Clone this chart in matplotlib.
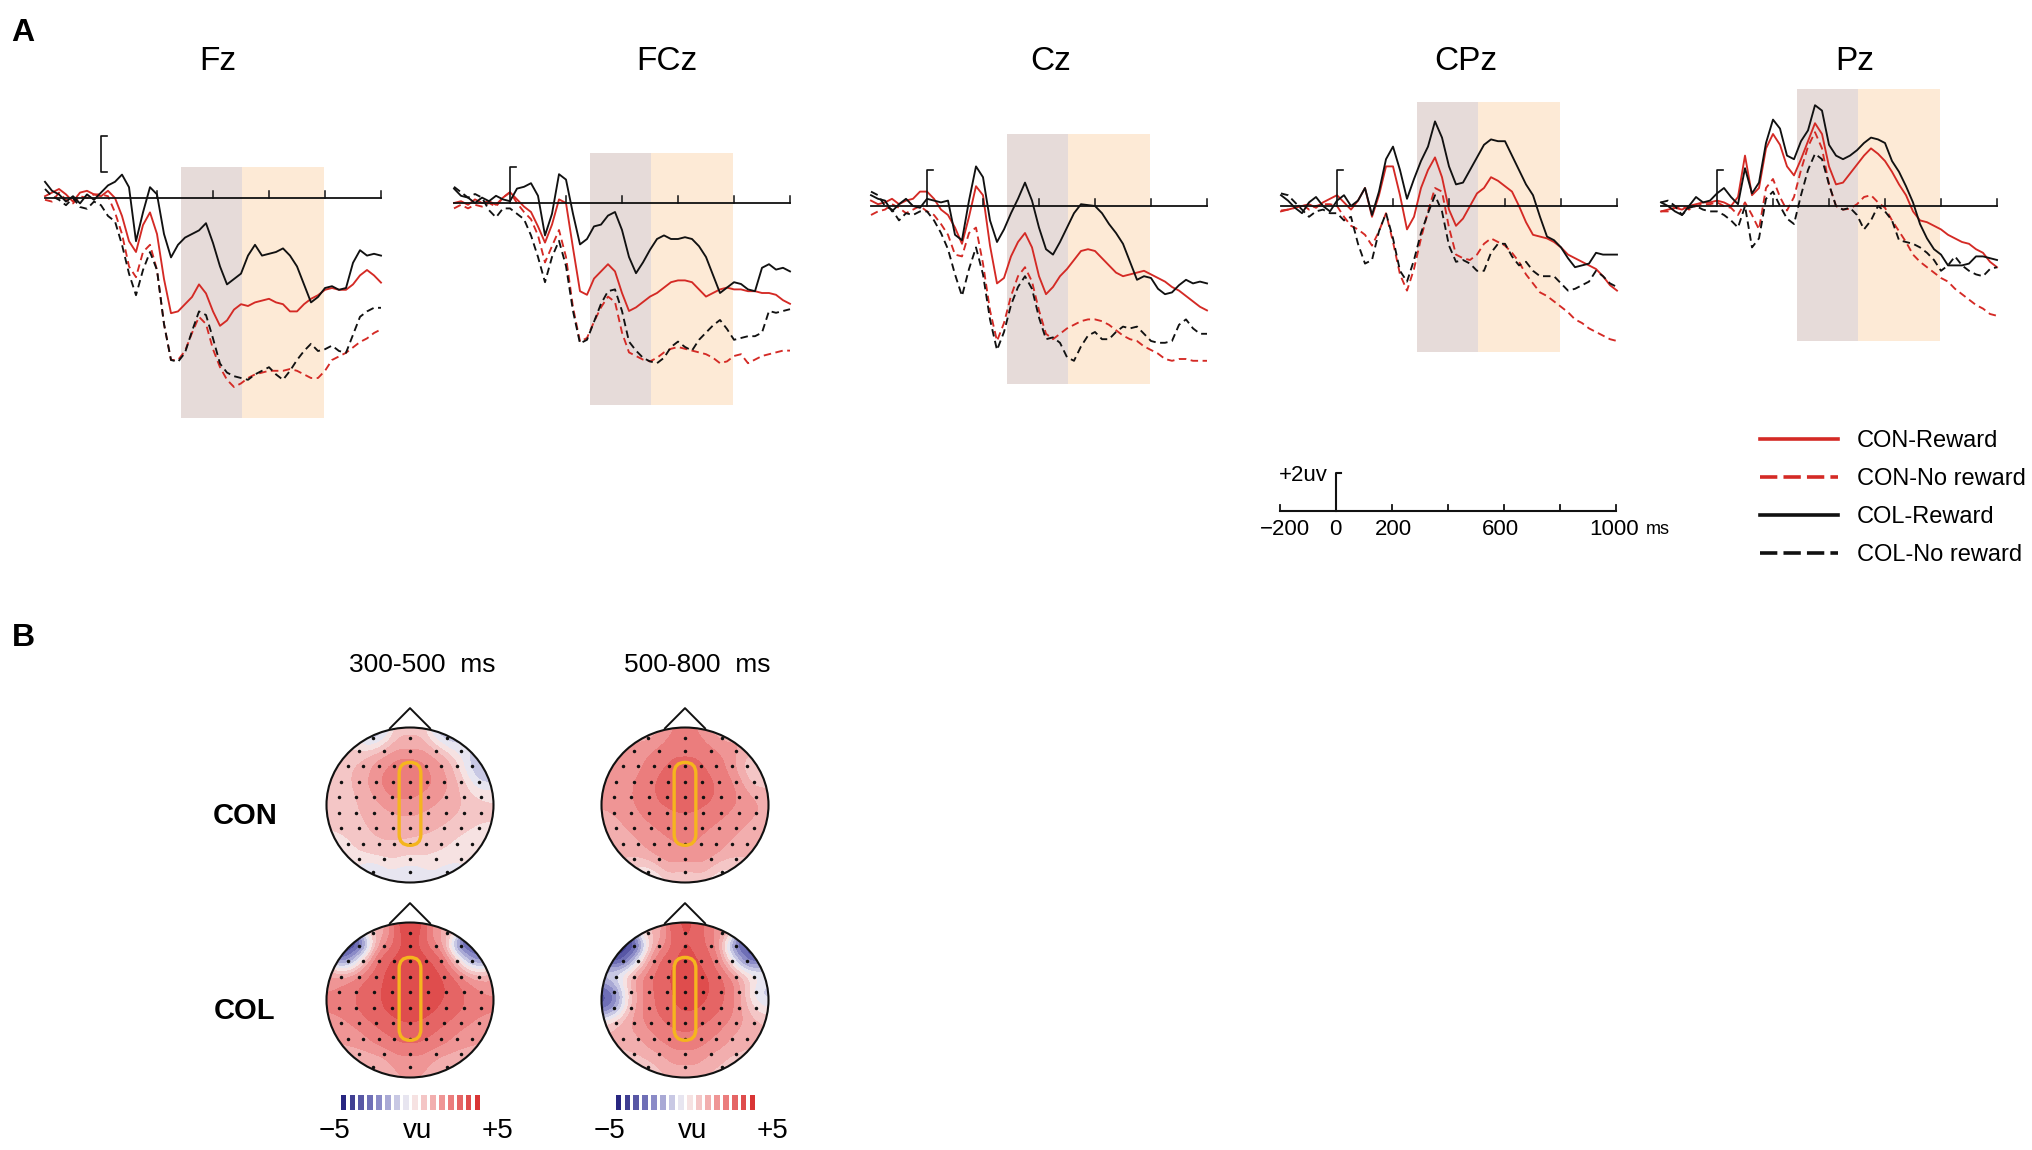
import numpy as np
import matplotlib

matplotlib.use("Agg")
import matplotlib.pyplot as plt
from matplotlib.colors import LinearSegmentedColormap
from matplotlib.patches import Ellipse, FancyBboxPatch, Rectangle

plt.rcParams["font.family"] = ["Liberation Sans", "DejaVu Sans"]

W, H = 2033, 1150
PX_MS = 0.28      # pixels per ms in the ERP panels and the scale bar
PX_UV = 18.0      # pixels per microvolt

# ── data ────────────────────────────────────────────────────────────────────
TIMES = np.arange(-200, 1001, 25)   # ms, sampling grid of the read-off values

# rows: -200..-25 | 0..175 | 200..375 | 400..575 | 600..775 | 800..975 | 1000
FZ_CON_REW = [0.1, 0.3, 0.5, 0.2, -0.2, 0.3, 0.4, 0.2,
              0.1, 0.4, 0.0, -1.0, -2.4, -3.0, -1.5, -0.8,
              -2.0, -4.5, -6.4, -6.3, -5.9, -5.5, -4.8, -5.3,
              -6.3, -7.1, -6.8, -6.2, -5.9, -6.0, -5.8, -5.7,
              -5.6, -5.8, -5.9, -6.3, -6.3, -5.9, -5.6, -5.4,
              -5.1, -5.0, -5.1, -5.1, -4.8, -4.3, -4.0, -4.3,
              -4.7]
FZ_CON_NOREW = [-0.1, -0.2, 0.3, -0.1, -0.3, 0.1, 0.0, 0.2,
                0.2, 0.1, -0.8, -2.0, -3.8, -4.4, -3.0, -2.6,
                -4.0, -7.0, -9.0, -9.0, -8.5, -7.5, -6.6, -7.0,
                -8.4, -9.4, -10.1, -10.5, -10.3, -10.0, -9.8, -9.7,
                -9.6, -9.6, -9.6, -9.5, -9.6, -9.8, -10.0, -10.0,
                -9.6, -9.0, -8.8, -8.6, -8.3, -8.0, -7.8, -7.5,
                -7.3]
FZ_COL_REW = [0.9, 0.4, 0.2, -0.2, 0.1, -0.3, 0.2, -0.1,
              0.3, 0.7, 0.9, 1.3, 0.6, -2.4, -0.8, 0.6,
              0.2, -2.0, -3.3, -2.6, -2.2, -2.0, -1.8, -1.4,
              -2.5, -3.8, -4.8, -4.5, -4.2, -3.2, -2.6, -3.2,
              -3.1, -3.0, -2.8, -3.2, -3.8, -4.8, -5.8, -5.5,
              -5.0, -4.9, -5.1, -5.0, -3.6, -2.9, -3.2, -3.1,
              -3.2]
FZ_COL_NOREW = [0.5, 0.1, -0.1, -0.4, 0.0, -0.5, -0.6, -0.2,
                -0.4, -1.0, -1.3, -2.6, -4.2, -5.4, -4.0, -3.0,
                -4.0, -7.0, -9.0, -9.1, -8.6, -7.4, -6.3, -6.5,
                -7.8, -9.2, -9.7, -9.9, -10.0, -10.1, -9.8, -9.6,
                -9.4, -9.8, -10.1, -9.6, -9.0, -8.5, -8.1, -8.5,
                -8.4, -8.2, -8.5, -8.6, -7.6, -6.6, -6.3, -6.1,
                -6.1]

FCZ_CON_REW = [0.0, 0.1, -0.1, 0.2, 0.0, 0.1, -0.1, 0.3,
               0.6, 0.2, -0.2, -0.5, -1.3, -2.2, -1.2, 0.2,
               0.0, -2.5, -4.9, -5.1, -4.2, -3.8, -3.4, -3.8,
               -5.0, -6.0, -5.8, -5.5, -5.2, -5.0, -4.7, -4.4,
               -4.3, -4.3, -4.4, -4.8, -5.2, -5.0, -4.8, -4.7,
               -4.8, -4.8, -4.9, -4.9, -5.0, -5.0, -5.1, -5.4,
               -5.6]
FCZ_CON_NOREW = [-0.3, -0.1, -0.3, -0.1, -0.2, 0.0, -0.2, 0.3,
                 0.6, 0.0, -0.5, -0.9, -1.8, -3.3, -2.4, -1.5,
                 -3.0, -5.8, -7.7, -7.5, -6.6, -5.8, -5.2, -5.5,
                 -7.2, -8.3, -8.5, -8.7, -8.8, -8.6, -8.3, -8.1,
                 -8.0, -8.1, -8.2, -8.3, -8.4, -8.6, -8.9, -8.8,
                 -8.5, -8.4, -8.9, -8.7, -8.5, -8.4, -8.3, -8.2,
                 -8.2]
FCZ_COL_REW = [0.8, 0.4, 0.3, 0.0, 0.3, 0.1, 0.4, 0.2,
               0.1, 0.8, 0.9, 1.1, 0.4, -1.8, -0.6, 1.6,
               1.3, -0.6, -2.3, -2.0, -1.3, -1.2, -0.7, -0.5,
               -1.5, -3.0, -3.9, -3.3, -2.6, -2.0, -1.8, -2.0,
               -2.0, -1.9, -2.0, -2.4, -3.0, -4.0, -5.0, -4.7,
               -4.4, -4.5, -4.8, -4.9, -3.6, -3.4, -3.7, -3.6,
               -3.8]
FCZ_COL_NOREW = [0.9, 0.6, 0.3, 0.5, 0.3, -0.4, -0.8, -0.3,
                 -0.3, -0.6, -0.9, -1.8, -3.0, -4.4, -3.0, -2.1,
                 -3.5, -6.0, -7.8, -7.6, -6.6, -5.6, -4.9, -4.8,
                 -6.0, -7.7, -8.2, -8.6, -8.8, -8.9, -8.6, -8.0,
                 -7.7, -8.0, -8.2, -7.6, -7.2, -6.8, -6.5, -7.0,
                 -7.6, -7.5, -7.4, -7.4, -7.2, -6.0, -6.1, -6.0,
                 -5.9]

CZ_CON_REW = [0.3, 0.1, 0.2, 0.4, 0.1, 0.3, 0.4, 0.8,
              0.8, 0.4, -0.2, -0.5, -1.2, -2.1, -0.6, 1.1,
              0.6, -2.2, -4.3, -4.0, -2.8, -2.0, -1.5, -2.3,
              -3.9, -4.9, -4.5, -3.9, -3.5, -3.0, -2.5, -2.4,
              -2.5, -2.9, -3.3, -3.7, -3.9, -3.8, -3.7, -3.6,
              -3.8, -4.0, -4.2, -4.5, -4.7, -5.0, -5.3, -5.6,
              -5.8]
CZ_CON_NOREW = [-0.5, -0.3, -0.2, 0.1, -0.1, -0.4, -0.2, 0.0,
                -0.3, -0.5, -1.0, -1.6, -2.7, -2.8, -1.5, -1.2,
                -3.2, -5.8, -7.5, -6.5, -5.0, -3.9, -3.4, -4.2,
                -5.8, -7.1, -7.4, -7.1, -6.8, -6.6, -6.4, -6.3,
                -6.3, -6.4, -6.6, -6.9, -7.2, -7.4, -7.5, -7.8,
                -8.0, -8.2, -8.5, -8.6, -8.5, -8.5, -8.6, -8.6,
                -8.6]
CZ_COL_REW = [0.6, 0.4, 0.3, -0.3, 0.1, 0.4, 0.0, -0.1,
              0.4, 0.3, 0.2, 0.3, -1.6, -1.9, 0.3, 2.2,
              1.6, -0.8, -2.0, -1.3, -0.4, 0.4, 1.3, 0.3,
              -1.2, -2.4, -2.7, -2.0, -1.2, -0.4, 0.1, 0.05,
              0.0, -0.4, -1.0, -1.5, -2.1, -3.1, -4.1, -3.9,
              -4.0, -4.6, -4.9, -4.8, -4.4, -4.1, -4.3, -4.2,
              -4.3]
CZ_COL_NOREW = [0.8, 0.6, 0.0, -0.2, -0.8, -0.4, -0.5, -0.3,
                -0.3, -0.8, -1.5, -2.4, -3.8, -5.0, -3.5, -2.3,
                -3.8, -6.3, -8.0, -7.0, -5.5, -4.5, -3.9, -4.6,
                -6.2, -7.4, -7.3, -7.6, -8.4, -8.6, -7.8, -7.2,
                -7.0, -7.4, -7.4, -7.0, -6.7, -6.8, -6.7, -7.1,
                -7.5, -7.6, -7.6, -7.5, -6.6, -6.3, -6.8, -7.1,
                -7.1]

CPZ_CON_REW = [-0.3, -0.2, -0.1, 0.0, 0.1, -0.1, 0.2, 0.4,
               0.6, 0.2, -0.2, 0.3, 1.0, -0.6, 0.6, 2.2,
               2.2, 0.6, -1.3, -0.6, 1.0, 2.0, 2.7, 1.6,
               -0.2, -1.1, -0.7, 0.0, 0.7, 1.0, 1.6, 1.4,
               1.1, 0.8, 0.0, -0.9, -1.6, -1.7, -1.8, -2.0,
               -2.3, -2.7, -2.9, -3.1, -3.3, -3.5, -3.9, -4.4,
               -4.7]
CPZ_CON_NOREW = [-0.25, -0.2, -0.1, 0.1, -0.2, 0.0, 0.1, 0.1,
                 0.0, -0.6, -1.1, -1.3, -1.6, -2.2, -1.4, -0.4,
                 -2.0, -3.8, -4.7, -3.5, -1.8, -0.3, 1.0, 0.8,
                 -1.2, -2.7, -2.9, -3.0, -2.7, -2.1, -1.8, -2.0,
                 -2.2, -2.6, -3.1, -3.8, -4.3, -4.8, -5.0, -5.3,
                 -5.6, -5.9, -6.3, -6.5, -6.8, -7.0, -7.2, -7.4,
                 -7.5]
CPZ_COL_REW = [0.6, 0.3, -0.1, -0.4, 0.2, 0.5, 0.0, -0.3,
               0.3, 0.6, 0.0, 0.3, 1.0, -0.5, 0.8, 2.6,
               3.3, 2.0, 0.4, 1.5, 2.5, 3.3, 4.7, 3.8,
               2.2, 1.2, 1.3, 2.0, 2.7, 3.4, 3.7, 3.6,
               3.6, 2.8, 2.0, 1.2, 0.6, -0.6, -1.7, -1.9,
               -2.3, -2.9, -3.4, -3.3, -3.2, -2.6, -2.7, -2.7,
               -2.7]
CPZ_COL_NOREW = [0.7, 0.6, 0.2, -0.2, -0.6, -0.3, -0.2, -0.4,
                 -0.4, -0.8, -0.6, -2.1, -3.2, -3.0, -1.4, -0.4,
                 -1.8, -3.6, -4.2, -3.0, -1.5, -0.4, 0.6, -0.3,
                 -2.2, -3.1, -3.0, -3.2, -3.6, -3.6, -2.6, -2.1,
                 -2.1, -2.8, -3.3, -3.1, -3.6, -3.9, -3.9, -3.9,
                 -4.3, -4.7, -4.6, -4.4, -4.2, -3.6, -3.9, -4.3,
                 -4.5]

PZ_CON_REW = [-0.3, -0.2, -0.1, -0.2, 0.0, 0.1, 0.2, 0.2,
              0.3, 0.2, 0.0, 0.5, 2.8, 0.6, 1.0, 3.2,
              4.0, 3.4, 2.2, 1.7, 2.6, 3.6, 4.6, 4.0,
              2.2, 1.2, 1.3, 1.8, 2.3, 2.8, 3.2, 2.9,
              2.5, 1.9, 1.2, 0.6, -0.3, -0.8, -0.9, -1.1,
              -1.3, -1.6, -1.8, -2.0, -2.1, -2.4, -2.6, -3.1,
              -3.4]
PZ_CON_NOREW = [-0.3, -0.3, -0.1, 0.0, -0.2, 0.0, 0.1, 0.1,
                0.2, 0.0, -0.1, -0.5, 0.2, -0.5, -1.3, 1.0,
                1.5, 0.5, -0.25, 0.5, 2.0, 3.3, 4.1, 3.2,
                1.2, 0.0, -0.2, -0.15, 0.1, 0.5, 0.6, 0.2,
                -0.1, -0.8, -1.4, -2.0, -2.7, -3.1, -3.4, -3.7,
                -4.0, -4.2, -4.6, -4.9, -5.2, -5.5, -5.7, -6.0,
                -6.1]
PZ_COL_REW = [0.2, 0.0, -0.3, -0.5, 0.0, 0.5, 0.2, 0.3,
              0.7, 1.0, 0.5, 0.1, 2.1, 0.7, 1.3, 3.5,
              4.8, 4.3, 2.8, 2.6, 3.6, 4.2, 5.6, 5.3,
              3.4, 2.8, 2.6, 2.8, 3.1, 3.5, 3.8, 3.7,
              3.5, 2.5, 1.9, 1.1, 0.2, -1.0, -1.8, -2.4,
              -2.7, -3.3, -3.3, -3.3, -3.2, -2.8, -2.8, -2.9,
              -3.0]
PZ_COL_NOREW = [0.2, 0.3, 0.0, -0.5, -0.1, 0.0, -0.2, -0.3,
                -0.3, -0.5, -0.8, -1.2, 0.0, -2.3, -1.8, 0.4,
                0.8, 0.0, -0.7, -1.0, 0.6, 2.0, 2.9, 2.6,
                1.2, 0.0, -0.2, -0.1, -0.5, -1.3, -0.8, 0.0,
                -0.3, -0.8, -1.9, -2.0, -2.1, -2.3, -2.6, -3.0,
                -3.6, -3.3, -2.8, -3.3, -3.6, -3.8, -3.9, -3.5,
                -3.4]

ELECTRODES = ["Fz", "FCz", "Cz", "CPz", "Pz"]
CONDITIONS = ["CON-Reward", "CON-No reward", "COL-Reward", "COL-No reward"]
WAVES = {
    "Fz": [FZ_CON_REW, FZ_CON_NOREW, FZ_COL_REW, FZ_COL_NOREW],
    "FCz": [FCZ_CON_REW, FCZ_CON_NOREW, FCZ_COL_REW, FCZ_COL_NOREW],
    "Cz": [CZ_CON_REW, CZ_CON_NOREW, CZ_COL_REW, CZ_COL_NOREW],
    "CPz": [CPZ_CON_REW, CPZ_CON_NOREW, CPZ_COL_REW, CPZ_COL_NOREW],
    "Pz": [PZ_CON_REW, PZ_CON_NOREW, PZ_COL_REW, PZ_COL_NOREW],
}
WINDOW_LABELS = ["300-500  ms", "500-800  ms"]
GROUPS = ["CON", "COL"]
SCALE_TICKS = [-200, 0, 200, 400, 600, 800, 1000]
SCALE_LABELS = {-180: "\u2212200", 0: "0", 205: "200", 590: "600", 995: "1000"}

# topography: electrode values (µV) row by row, front to back
TOPO_ROW_Y = [0.86, 0.70, 0.50, 0.30, 0.10, -0.10, -0.30, -0.50, -0.70, -0.86]
TOPO_ROW_N = [3, 5, 9, 9, 9, 9, 9, 9, 5, 3]
TOPO_CON_300 = [[-1.5, 1.0, -1.5],
                [0.5, 1.5, 2.0, 1.5, -0.5],
                [1.0, 1.5, 2.2, 2.8, 3.0, 2.6, 2.0, 1.2, -1.8],
                [1.0, 1.4, 2.4, 3.2, 3.2, 2.8, 2.2, 1.2, -1.2],
                [0.8, 1.2, 1.8, 2.6, 2.6, 2.2, 1.8, 1.2, 0.6],
                [0.8, 1.2, 1.5, 1.8, 2.0, 1.8, 1.5, 1.2, 0.8],
                [0.6, 1.1, 1.4, 1.6, 1.6, 1.4, 1.2, 0.8, 0.4],
                [0.3, 1.0, 1.2, 1.2, 1.0, 1.0, 0.8, 0.4, 0.2],
                [0.2, 0.5, 0.5, 0.3, 0.0],
                [-1.0, -0.8, -0.4]]
TOPO_CON_500 = [[1.5, 2.5, 1.5],
                [2.0, 2.8, 3.0, 2.8, 2.0],
                [1.8, 2.4, 2.8, 3.2, 3.4, 3.2, 2.8, 2.4, 0.2],
                [2.0, 2.5, 3.0, 3.6, 3.8, 3.5, 3.0, 2.6, 0.5],
                [2.0, 2.5, 3.0, 3.4, 3.6, 3.4, 3.0, 2.6, 1.8],
                [1.8, 2.3, 2.8, 3.0, 3.2, 3.0, 2.7, 2.3, 1.8],
                [1.6, 2.0, 2.4, 2.7, 2.8, 2.6, 2.3, 2.0, 1.6],
                [1.5, 1.8, 2.2, 2.4, 2.6, 2.4, 2.2, 1.8, 1.4],
                [1.0, 2.0, 2.4, 2.0, 1.0],
                [-0.3, 0.6, 0.0]]
TOPO_COL_300 = [[1.5, 4.0, 2.0],
                [-5.0, 2.5, 4.0, 2.5, -4.5],
                [-4.0, 1.5, 3.6, 4.0, 4.2, 4.0, 3.6, 1.5, -3.5],
                [2.2, 3.0, 3.6, 4.0, 4.2, 4.2, 3.8, 3.0, 1.5],
                [2.5, 3.2, 3.6, 4.0, 4.3, 4.2, 3.8, 3.2, 2.5],
                [2.6, 3.2, 3.6, 4.0, 4.3, 4.0, 3.6, 3.2, 2.6],
                [2.2, 2.8, 3.3, 3.6, 3.8, 3.6, 3.2, 2.8, 2.2],
                [1.8, 2.3, 2.8, 3.2, 3.4, 3.2, 2.8, 2.3, 1.8],
                [1.5, 2.0, 2.6, 2.0, 1.5],
                [1.0, 1.8, 1.2]]
TOPO_COL_500 = [[1.5, 3.8, 2.5],
                [-5.0, 2.0, 3.8, 3.0, -4.0],
                [-5.0, 0.0, 3.0, 3.8, 4.0, 3.8, 3.2, 0.5, -4.5],
                [0.0, 2.5, 3.2, 3.8, 4.0, 4.0, 3.5, 2.5, 0.5],
                [-4.0, 1.5, 3.0, 3.6, 4.2, 4.0, 3.4, 2.5, -1.5],
                [-3.5, 1.8, 3.0, 3.5, 4.0, 3.8, 3.2, 2.4, 0.0],
                [1.5, 2.2, 2.8, 3.2, 3.5, 3.2, 2.8, 2.2, 1.5],
                [1.2, 1.8, 2.4, 2.8, 3.0, 2.8, 2.4, 1.8, 1.2],
                [1.0, 1.8, 2.4, 1.8, 1.0],
                [0.8, 1.5, 1.0]]
TOPO_MAPS = [[TOPO_CON_300, TOPO_CON_500], [TOPO_COL_300, TOPO_COL_500]]

# ── layout (pixels) ─────────────────────────────────────────────────────────
ONSET_X = [101, 510, 927, 1337, 1717]
BASE_Y = [198, 203, 206, 206, 206]
TITLE_X = [218, 667, 1051, 1466, 1855]
SHADE_UV = [(1.7, -12.2), (2.8, -11.2), (4.0, -9.9), (5.8, -8.1), (6.5, -7.5)]
SHADE_MS = (285, 505, 795)
BRACKET_BASE = [1.45, 0, 0, 0, 0]
HEAD_X = [410, 685]
HEAD_Y = [805, 1000]
HEAD_RX, HEAD_RY = 83.5, 77.5

RED = "#d42a25"
BLACK = "#111111"
DASH = (0, (4, 2.4))
STYLES = [(RED, "-"), (RED, DASH), (BLACK, "-"), (BLACK, DASH)]
SHADE_1 = "#e6dbd9"
SHADE_2 = "#fdead6"

TOPO_CMAP = LinearSegmentedColormap.from_list(
    "topo", [(0.0, "#1c1a78"), (0.25, "#7b7bbf"), (0.45, "#dcdcee"), (0.5, "#f7f3f3"),
             (0.56, "#f6d4d4"), (0.75, "#ee8a8a"), (1.0, "#d62a2a")])

fig = plt.figure(figsize=(W / 100, H / 100), dpi=100)


def px_axes(left, top, width, height):
    ax = fig.add_axes([left / W, 1 - (top + height) / H, width / W, height / H])
    ax.set_axis_off()
    return ax


def px_text(x, y, s, **kw):
    fig.text(x / W, 1 - y / H, s, **kw)


# ── A. ERP waveforms ────────────────────────────────────────────────────────
handles = []
for i, name in enumerate(ELECTRODES):
    ax = px_axes(ONSET_X[i] - 220 * PX_MS, BASE_Y[i] - 7 * PX_UV, 1240 * PX_MS, 20 * PX_UV)
    ax.set_xlim(-220, 1020)
    ax.set_ylim(-13, 7)
    hi, lo = SHADE_UV[i]
    ax.add_patch(Rectangle((SHADE_MS[0], lo), SHADE_MS[1] - SHADE_MS[0], hi - lo,
                           facecolor=SHADE_1, edgecolor="none", zorder=0))
    ax.add_patch(Rectangle((SHADE_MS[1], lo), SHADE_MS[2] - SHADE_MS[1], hi - lo,
                           facecolor=SHADE_2, edgecolor="none", zorder=0))
    ax.plot([-200, 1000], [0, 0], color=BLACK, lw=1.3, zorder=3)
    for t in SCALE_TICKS[2:]:
        ax.plot([t, t], [0, 0.38], color=BLACK, lw=1.1, zorder=3)
    b = BRACKET_BASE[i]
    if b:
        ax.plot([22, 0, 0, 22], [b, b, b + 2, b + 2], color=BLACK, lw=1.2, zorder=3)
    else:
        ax.plot([0, 0, 22], [0, 2, 2], color=BLACK, lw=1.2, zorder=3)
    for vals, (color, ls), label in zip(WAVES[name], STYLES, CONDITIONS):
        line, = ax.plot(TIMES, vals, color=color, ls=ls, lw=1.35, zorder=2, label=label)
        if i == 0:
            handles.append(line)
    px_text(TITLE_X[i], 62, name, fontsize=24, ha="center", va="center")

px_text(23, 33, "A", fontsize=23, fontweight="bold", ha="center", va="center")

# scale bar
SB_X, SB_Y = 1335.7, 511
ax = px_axes(SB_X - 300 * PX_MS, SB_Y - 3 * PX_UV, 1500 * PX_MS, 6 * PX_UV)
ax.set_xlim(-300, 1200)
ax.set_ylim(-3, 3)
ax.plot([-200, 1000], [0, 0], color=BLACK, lw=1.5)
for t in SCALE_TICKS:
    ax.plot([t, t], [0, 0.35], color=BLACK, lw=1.3)
ax.plot([0, 0, 18], [0, 2.1, 2.1], color=BLACK, lw=1.5)
for t, s in SCALE_LABELS.items():
    ax.text(t, -1.05, s, fontsize=16, ha="center", va="center")
ax.text(1150, -1.05, "ms", fontsize=13, ha="center", va="center")
ax.text(-27, 1.95, "+2uv", fontsize=16, ha="right", va="center")

leg = fig.legend(handles, CONDITIONS, loc="upper left", bbox_to_anchor=(1760 / W, 1 - 430 / H),
                 frameon=False, fontsize=17, handlelength=3.3, handletextpad=0.8,
                 labelspacing=0.68, borderpad=0, borderaxespad=0)
for ln in leg.get_lines():
    ln.set_linewidth(2.6)
    if ln.get_linestyle() != "-":
        ln.set_dashes((4.8, 1.7))

# ── B. topographies ─────────────────────────────────────────────────────────
px_text(23, 638, "B", fontsize=23, fontweight="bold", ha="center", va="center")

ex, ey = [], []
for y, n in zip(TOPO_ROW_Y, TOPO_ROW_N):
    half = 0.86 * np.sqrt(1 - y ** 2)
    ex.extend(np.linspace(-half, half, n))
    ey.extend([y] * n)
ex, ey = np.array(ex), np.array(ey)

grid = np.linspace(-1, 1, 201)
gx, gy = np.meshgrid(grid, grid)
levels = np.linspace(-5, 5, 17)

for r, group in enumerate(GROUPS):
    px_text(245, HEAD_Y[r] + 11, group, fontsize=21, fontweight="bold", ha="center", va="center")
    for c in range(2):
        cx, cy = HEAD_X[c], HEAD_Y[r]
        ax = px_axes(cx - 1.3 * HEAD_RX, cy - 1.35 * HEAD_RY, 2.6 * HEAD_RX, 2.55 * HEAD_RY)
        ax.set_xlim(-1.3, 1.3)
        ax.set_ylim(-1.2, 1.35)
        vals = np.concatenate([np.asarray(row, float) for row in TOPO_MAPS[r][c]])
        d2 = (gx[..., None] - ex) ** 2 + (gy[..., None] - ey) ** 2
        w = np.exp(-d2 / (2 * 0.13 ** 2)) + 1e-12
        field = (w * vals).sum(-1) / w.sum(-1)
        cs = ax.contourf(gx, gy, np.clip(field, -4.99, 4.99), levels=levels, cmap=TOPO_CMAP,
                         vmin=-5, vmax=5)
        cs.set_clip_path(Ellipse((0, 0), 2, 2, transform=ax.transData))
        ax.add_patch(Ellipse((0, 0), 2, 2, fill=False, ec=BLACK, lw=1.5, zorder=4))
        ax.plot([-0.24, 0, 0.24], [0.99, 1.25, 0.99], color=BLACK, lw=1.4, zorder=4)
        ax.plot(ex, ey, "o", color=BLACK, ms=1.5, zorder=5)
        ax.add_patch(FancyBboxPatch((-0.13, -0.52), 0.26, 1.07,
                                    boxstyle="round,pad=0,rounding_size=0.13",
                                    mutation_aspect=1.09, fill=False, ec="#f5b51e",
                                    lw=2.4, zorder=6))
        if r == 0:
            px_text([422, 697][c], 665, WINDOW_LABELS[c], fontsize=19, ha="center", va="center")
        if r == 1:
            cb = px_axes(cx - 71, 1095, 143, 15)
            cb.bar(np.arange(16), np.ones(16), width=0.65,
                   color=[TOPO_CMAP((k + 0.5) / 16) for k in range(16)])
            cb.set_xlim(-0.5, 15.5)
            cb.set_ylim(0, 1)
            px_text(cx - 75, 1131, "\u22125", fontsize=20, ha="center", va="center")
            px_text(cx + 8, 1131, "vu", fontsize=20, ha="center", va="center")
            px_text(cx + 88, 1131, "+5", fontsize=20, ha="center", va="center")

fig.savefig("out.png", dpi=100, facecolor="white")
